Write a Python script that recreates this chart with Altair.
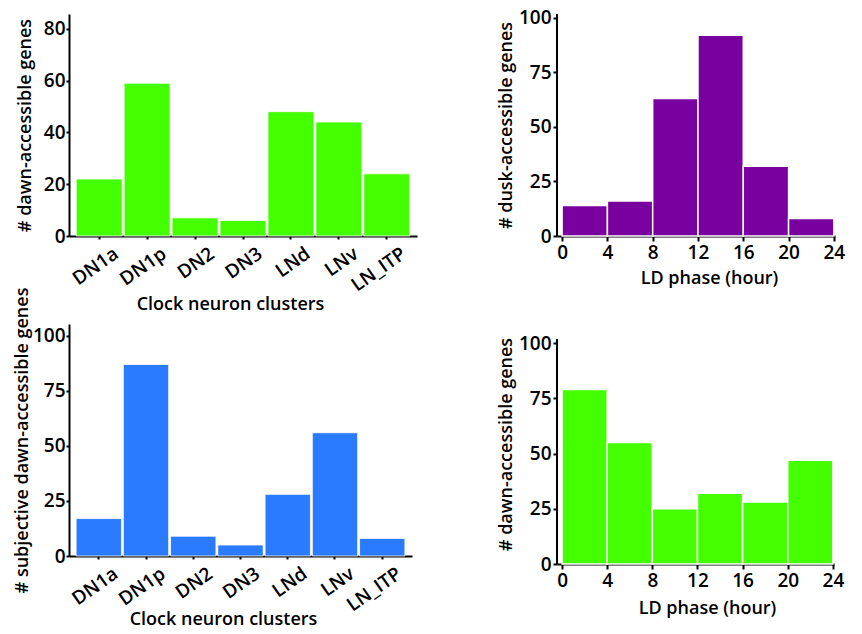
import altair as alt
import pandas as pd

clusters = ["DN1a", "DN1p", "DN2", "DN3", "LNd", "LNv", "LN_ITP"]
dawn_counts = [22, 59, 7, 6, 48, 44, 24]
subj_dawn_counts = [17, 87, 9, 5, 28, 56, 8]

phase_start = [0, 4, 8, 12, 16, 20]
phase_end = [4, 8, 12, 16, 20, 24]
dusk_by_phase = [14, 16, 63, 92, 32, 8]
dawn_by_phase = [79, 55, 25, 32, 28, 47]

GREEN = "#44FF00"
PURPLE = "#78009E"
BLUE = "#2A7BFF"
FONT = "Open Sans"


def cluster_panel(values, color, ytitle, ymax, yticks, w, h, ytp, xtitle_x, xtitle_y):
    df = pd.DataFrame({"cluster": clusters, "n": values})
    return alt.Chart(df).mark_bar(color=color, stroke="white", strokeWidth=0.8).encode(
        x=alt.X("cluster:N", sort=clusters,
                scale=alt.Scale(paddingInner=0.04, paddingOuter=0.15),
                axis=alt.Axis(title="Clock neuron clusters", labelAngle=325,
                              labelAlign="right", labelBaseline="top",
                              labelOffset=12, labelPadding=5, tickSize=3,
                              titleX=xtitle_x, titleY=xtitle_y,
                              titleBaseline="alphabetic")),
        y=alt.Y("n:Q", scale=alt.Scale(domain=[0, ymax], nice=False),
                axis=alt.Axis(title=ytitle, values=yticks, labelPadding=1, tickSize=3,
                              titlePadding=ytp)),
    ).properties(width=w, height=h)


def phase_panel(values, color, ytitle, ymax, axis_top, w, h, ytp, xtitle_x, xtitle_y):
    df = pd.DataFrame({"start": phase_start, "end": phase_end, "n": values})
    xscale = alt.Scale(domain=[-0.45, 24.1], nice=False, zero=False)
    yscale = alt.Scale(domain=[0, ymax], nice=False)
    bars = alt.Chart(df).mark_rect(color=color, stroke="white", strokeWidth=1.5).encode(
        x=alt.X("start:Q", scale=xscale,
                axis=alt.Axis(title="LD phase (hour)", values=[0, 4, 8, 12, 16, 20, 24],
                              labelPadding=2, labelFlush=False,
                              titleX=xtitle_x, titleY=xtitle_y,
                              titleBaseline="alphabetic")),
        x2="end:Q",
        y=alt.Y("n:Q", scale=yscale,
                axis=alt.Axis(title=ytitle, values=[0, 25, 50, 75, 100], domain=False,
                              tickSize=4, labelPadding=2, titlePadding=ytp,
                              labelFlush=False)),
        y2=alt.datum(0),
    )
    yline = alt.Chart(df).mark_rule(color="black", strokeWidth=2).encode(
        x=alt.datum(-0.45),
        y=alt.datum(0),
        y2=alt.datum(axis_top),
    )
    return alt.layer(bars, yline).properties(width=w, height=h)


tl = cluster_panel(dawn_counts, GREEN, "# dawn-accessible genes", 85.7,
                   [0, 20, 40, 60, 80], 348, 222, 9, 161, 73)
bl = cluster_panel(subj_dawn_counts, BLUE, "# subjective dawn-accessible genes", 105.4,
                   [0, 25, 50, 75, 100], 343, 232, 1, 154, 68)
tr = phase_panel(dusk_by_phase, PURPLE, "# dusk-accessible genes", 101.8, 101.8,
                 278, 222, 3, 152, 47)
br = phase_panel(dawn_by_phase, GREEN, "# dawn-accessible genes", 108.6, 101.8,
                 277, 240, 3, 150, 49)

chart = alt.concat(tl, tr, bl, br, columns=2, bounds="flush",
                   spacing={"row": 88, "column": 140}).properties(
    padding={"left": 5, "top": 0, "right": 5, "bottom": 0}
).configure_view(stroke=None).configure_axis(
    grid=False,
    domainColor="black", domainWidth=2,
    tickColor="black", tickWidth=2, tickSize=5,
    labelFont=FONT, labelFontSize=19, labelFontWeight=600, labelColor="black",
    titleFont=FONT, titleFontSize=18, titleFontWeight=600, titleColor="black",
)

chart.save("out.html", embed_options={"renderer": "svg", "actions": False})
